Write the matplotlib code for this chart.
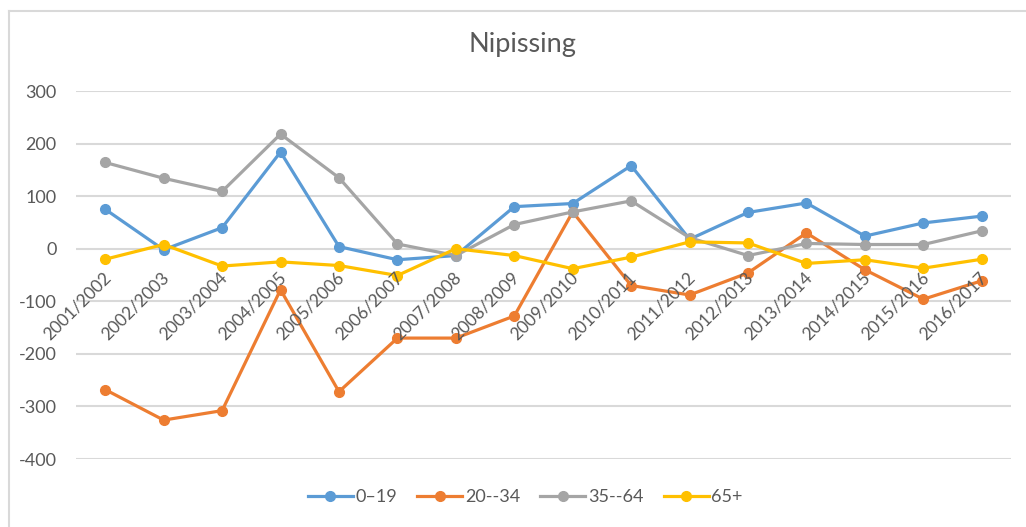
import numpy as np
import matplotlib
matplotlib.use("Agg")
from matplotlib import pyplot as plt
from matplotlib.lines import Line2D

plt.rcParams['font.family'] = ['Lato', 'DejaVu Sans']
plt.rcParams['axes.unicode_minus'] = False

# data
years = ["2001/2002", "2002/2003", "2003/2004", "2004/2005", "2005/2006", "2006/2007",
         "2007/2008", "2008/2009", "2009/2010", "2010/2011", "2011/2012", "2012/2013",
         "2013/2014", "2014/2015", "2015/2016", "2016/2017"]
age_0_19 = [75, -2, 40, 184, 4, -21, -13, 80, 86, 158, 18, 69, 87, 24, 49, 62]
age_20_34 = [-268, -326, -308, -78, -272, -170, -170, -128, 70, -70, -88, -46, 30, -40, -96, -61]
age_35_64 = [164, 134, 109, 218, 135, 9, -13, 46, 70, 91, 21, -13, 10, 8, 8, 34]
age_65_plus = [-20, 8, -33, -25, -32, -51, 0, -13, -38, -16, 13, 11, -28, -21, -37, -20]
series_names = ["0\u201319", "20--34", "35--64", "65+"]
y_ticks = [300, 200, 100, 0, -100, -200, -300, -400]

colors = ["#5B9BD5", "#ED7D31", "#A5A5A5", "#FFC000"]
text_col = "#595959"
grid_col = "#D9D9D9"

fig = plt.figure(figsize=(10.26, 5.27), dpi=100)
ax = fig.add_axes([76 / 1026, 68 / 527, 935 / 1026, 368 / 527])

x = np.arange(len(years))
for vals, name, c in zip([age_0_19, age_20_34, age_35_64, age_65_plus], series_names, colors):
    ax.plot(x, vals, color=c, lw=2.3, marker="o", ms=7, label=name, solid_joinstyle="round")

ax.set_xlim(-0.5, len(years) - 0.5)
ax.set_ylim(-400, 300)
ax.set_yticks(y_ticks)
ax.set_yticklabels([str(t) for t in y_ticks])
ax.set_xticks([])
ax.tick_params(axis="y", length=0, pad=14, labelsize=13, labelcolor=text_col)
for s in ax.spines.values():
    s.set_visible(False)
ax.yaxis.grid(True, color=grid_col, lw=1.5)
ax.set_axisbelow(True)

# category labels sit just under the zero line
for i, lab in enumerate(years):
    ax.annotate(lab, xy=(i, 0), xytext=(2, -19), textcoords="offset points",
                ha="right", va="center", rotation=45, rotation_mode="anchor",
                fontsize=12.5, color=text_col)

fig.text(0.509, 0.901, "Nipissing", ha="center", va="baseline", fontsize=19.5, color=text_col)

leg = fig.legend(loc="center", bbox_to_anchor=(0.512, 0.057), ncol=4, frameon=False,
                 fontsize=13, handlelength=2.5, handletextpad=0.15, columnspacing=1.1)
for t in leg.get_texts():
    t.set_color(text_col)

# chart area border
fig.add_artist(Line2D([9 / 1026, 9 / 1026], [0, 1 - 11 / 527], color=grid_col, lw=1.5,
                      transform=fig.transFigure))
fig.add_artist(Line2D([9 / 1026, 1], [1 - 11 / 527, 1 - 11 / 527], color=grid_col, lw=1.5,
                      transform=fig.transFigure))

fig.savefig("out.png", dpi=100, facecolor="white")
